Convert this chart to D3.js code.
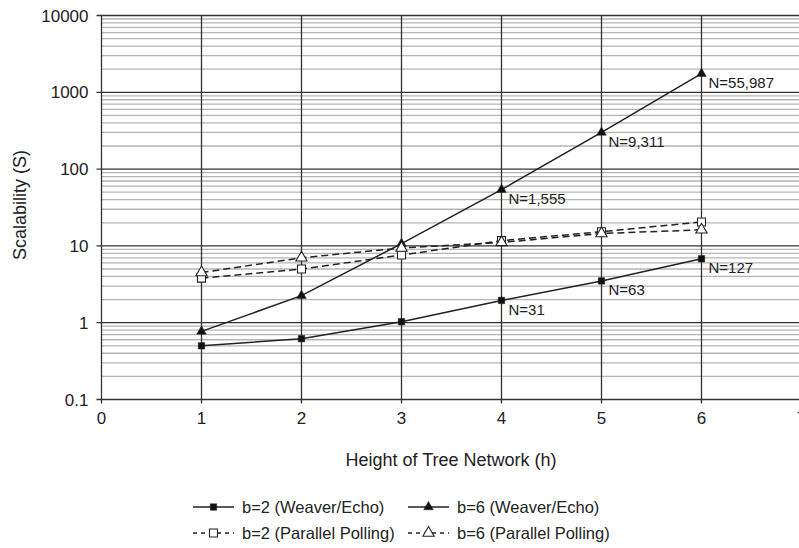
<!DOCTYPE html>
<html>
<head>
<meta charset="utf-8">
<script src="https://cdn.jsdelivr.net/npm/d3@7"></script>
<style>
  body { margin: 0; background: #fff; }
  svg { display: block; font-family: "Liberation Sans", Arial, sans-serif; }
</style>
</head>
<body>
<svg id="chart" width="799" height="548"></svg>
<script>
// tree heights
const heights = [1, 2, 3, 4, 5, 6];

// scalability values
const b2Weaver = [0.5, 0.62, 1.03, 1.95, 3.5, 6.8];
const b6Weaver = [0.77, 2.25, 10.7, 54, 300, 1750];
const b2Polling = [3.8, 5.0, 7.6, 11.7, 15.3, 20.5];
const b6Polling = [4.5, 7.0, 9.4, 11.1, 14.5, 16.2];

// node counts written next to points
const b2Labels = ["", "", "", "N=31", "N=63", "N=127"];
const b6Labels = ["", "", "", "N=1,555", "N=9,311", "N=55,987"];

const yTicks = [0.1, 1, 10, 100, 1000, 10000];
const xTicks = [0, 1, 2, 3, 4, 5, 6, 7];

const svg = d3.select("#chart");
const W = 799, H = 548;

const x = d3.scaleLinear().domain([0, 7]).range([101.5, 801.5]);
const y = d3.scaleLog().domain([0.1, 10000]).range([399.5, 15.5]);

// minor grid (2..9 of each decade)
let minor = [];
for (let p = -1; p < 4; p++) {
  for (let m = 2; m <= 9; m++) minor.push(m * Math.pow(10, p));
}
svg.append("g").selectAll("line")
  .data(minor)
  .join("line")
    .attr("x1", x(0)).attr("x2", W)
    .attr("y1", d => y(d)).attr("y2", d => y(d))
    .attr("stroke", "#b5b5b5").attr("stroke-width", 1.3);

// major horizontal grid
svg.append("g").selectAll("line")
  .data(yTicks)
  .join("line")
    .attr("x1", x(0) - 5).attr("x2", W)
    .attr("y1", d => y(d)).attr("y2", d => y(d))
    .attr("stroke", "#333").attr("stroke-width", 1.3);

// vertical grid incl. small ticks under the axis
svg.append("g").selectAll("line")
  .data(xTicks)
  .join("line")
    .attr("x1", d => x(d)).attr("x2", d => x(d))
    .attr("y1", y(10000)).attr("y2", y(0.1) + 4)
    .attr("stroke", "#333").attr("stroke-width", 1.3);

// tick labels
svg.append("g").selectAll("text")
  .data(yTicks)
  .join("text")
    .attr("x", x(0) - 13).attr("y", d => y(d))
    .attr("dy", "0.36em")
    .attr("text-anchor", "end")
    .attr("font-size", 17)
    .attr("fill", "#222")
    .text(d => d3.format("")(d));

svg.append("g").selectAll("text")
  .data(xTicks)
  .join("text")
    .attr("x", d => x(d)).attr("y", y(0.1) + 12)
    .attr("dy", "0.71em")
    .attr("text-anchor", "middle")
    .attr("font-size", 17)
    .attr("fill", "#222")
    .text(d => d);

// axis titles
svg.append("text")
  .attr("x", 451).attr("y", 466)
  .attr("text-anchor", "middle")
  .attr("font-size", 18)
  .attr("fill", "#222")
  .text("Height of Tree Network (h)");

svg.append("text")
  .attr("transform", "translate(26,205) rotate(-90)")
  .attr("text-anchor", "middle")
  .attr("font-size", 18)
  .attr("fill", "#222")
  .text("Scalability (S)");

const series = [
  { name: "b=2 (Weaver/Echo)", values: b2Weaver, dash: null, shape: d3.symbolSquare, size: 42, fill: "#111" },
  { name: "b=6 (Weaver/Echo)", values: b6Weaver, dash: null, shape: d3.symbolTriangle, size: 40, fill: "#111" },
  { name: "b=2 (Parallel Polling)", values: b2Polling, dash: "7,4", shape: d3.symbolSquare, size: 64, fill: "#fff" },
  { name: "b=6 (Parallel Polling)", values: b6Polling, dash: "7,4", shape: d3.symbolTriangle, size: 55, fill: "#fff" }
];

const line = d3.line()
  .x((d, i) => x(heights[i]))
  .y(d => y(d));

series.forEach(s => {
  svg.append("path")
    .attr("d", line(s.values))
    .attr("fill", "none")
    .attr("stroke", "#222")
    .attr("stroke-width", 1.5)
    .attr("stroke-dasharray", s.dash);
});

series.forEach(s => {
  svg.append("g").selectAll("path")
    .data(s.values)
    .join("path")
      .attr("transform", (d, i) => `translate(${x(heights[i])},${y(d)})`)
      .attr("d", d3.symbol().type(s.shape).size(s.size))
      .attr("fill", s.fill)
      .attr("stroke", "#222")
      .attr("stroke-width", s.fill === "#fff" ? 1.1 : 0.5);
});

// N= annotations
function annotate(vals, labels) {
  svg.append("g").selectAll("text")
    .data(heights.filter((h, i) => labels[i]))
    .join("text")
      .attr("x", h => x(h) + 7)
      .attr("y", h => y(vals[h - 1]) + 9)
      .attr("dy", "0.36em")
      .attr("font-size", 15)
      .attr("fill", "#222")
      .text(h => labels[h - 1]);
}
annotate(b2Weaver, b2Labels);
annotate(b6Weaver, b6Labels);

// legend
const legendPos = [[193, 507], [408, 507], [193, 533], [408, 533]];
series.forEach((s, i) => {
  const [lx, ly] = legendPos[i];
  const g = svg.append("g").attr("transform", `translate(${lx},${ly})`);
  g.append("line")
    .attr("x1", 0).attr("x2", 41)
    .attr("stroke", "#222").attr("stroke-width", 1.5)
    .attr("stroke-dasharray", s.dash ? "4,4" : null);
  g.append("path")
    .attr("transform", "translate(20.5,0)")
    .attr("d", d3.symbol().type(s.shape).size(s.size))
    .attr("fill", s.fill)
    .attr("stroke", "#222")
    .attr("stroke-width", s.fill === "#fff" ? 1.1 : 0.5);
  g.append("text")
    .attr("x", 49).attr("dy", "0.36em")
    .attr("font-size", 16.5)
    .attr("fill", "#222")
    .text(s.name);
});
</script>
</body>
</html>
